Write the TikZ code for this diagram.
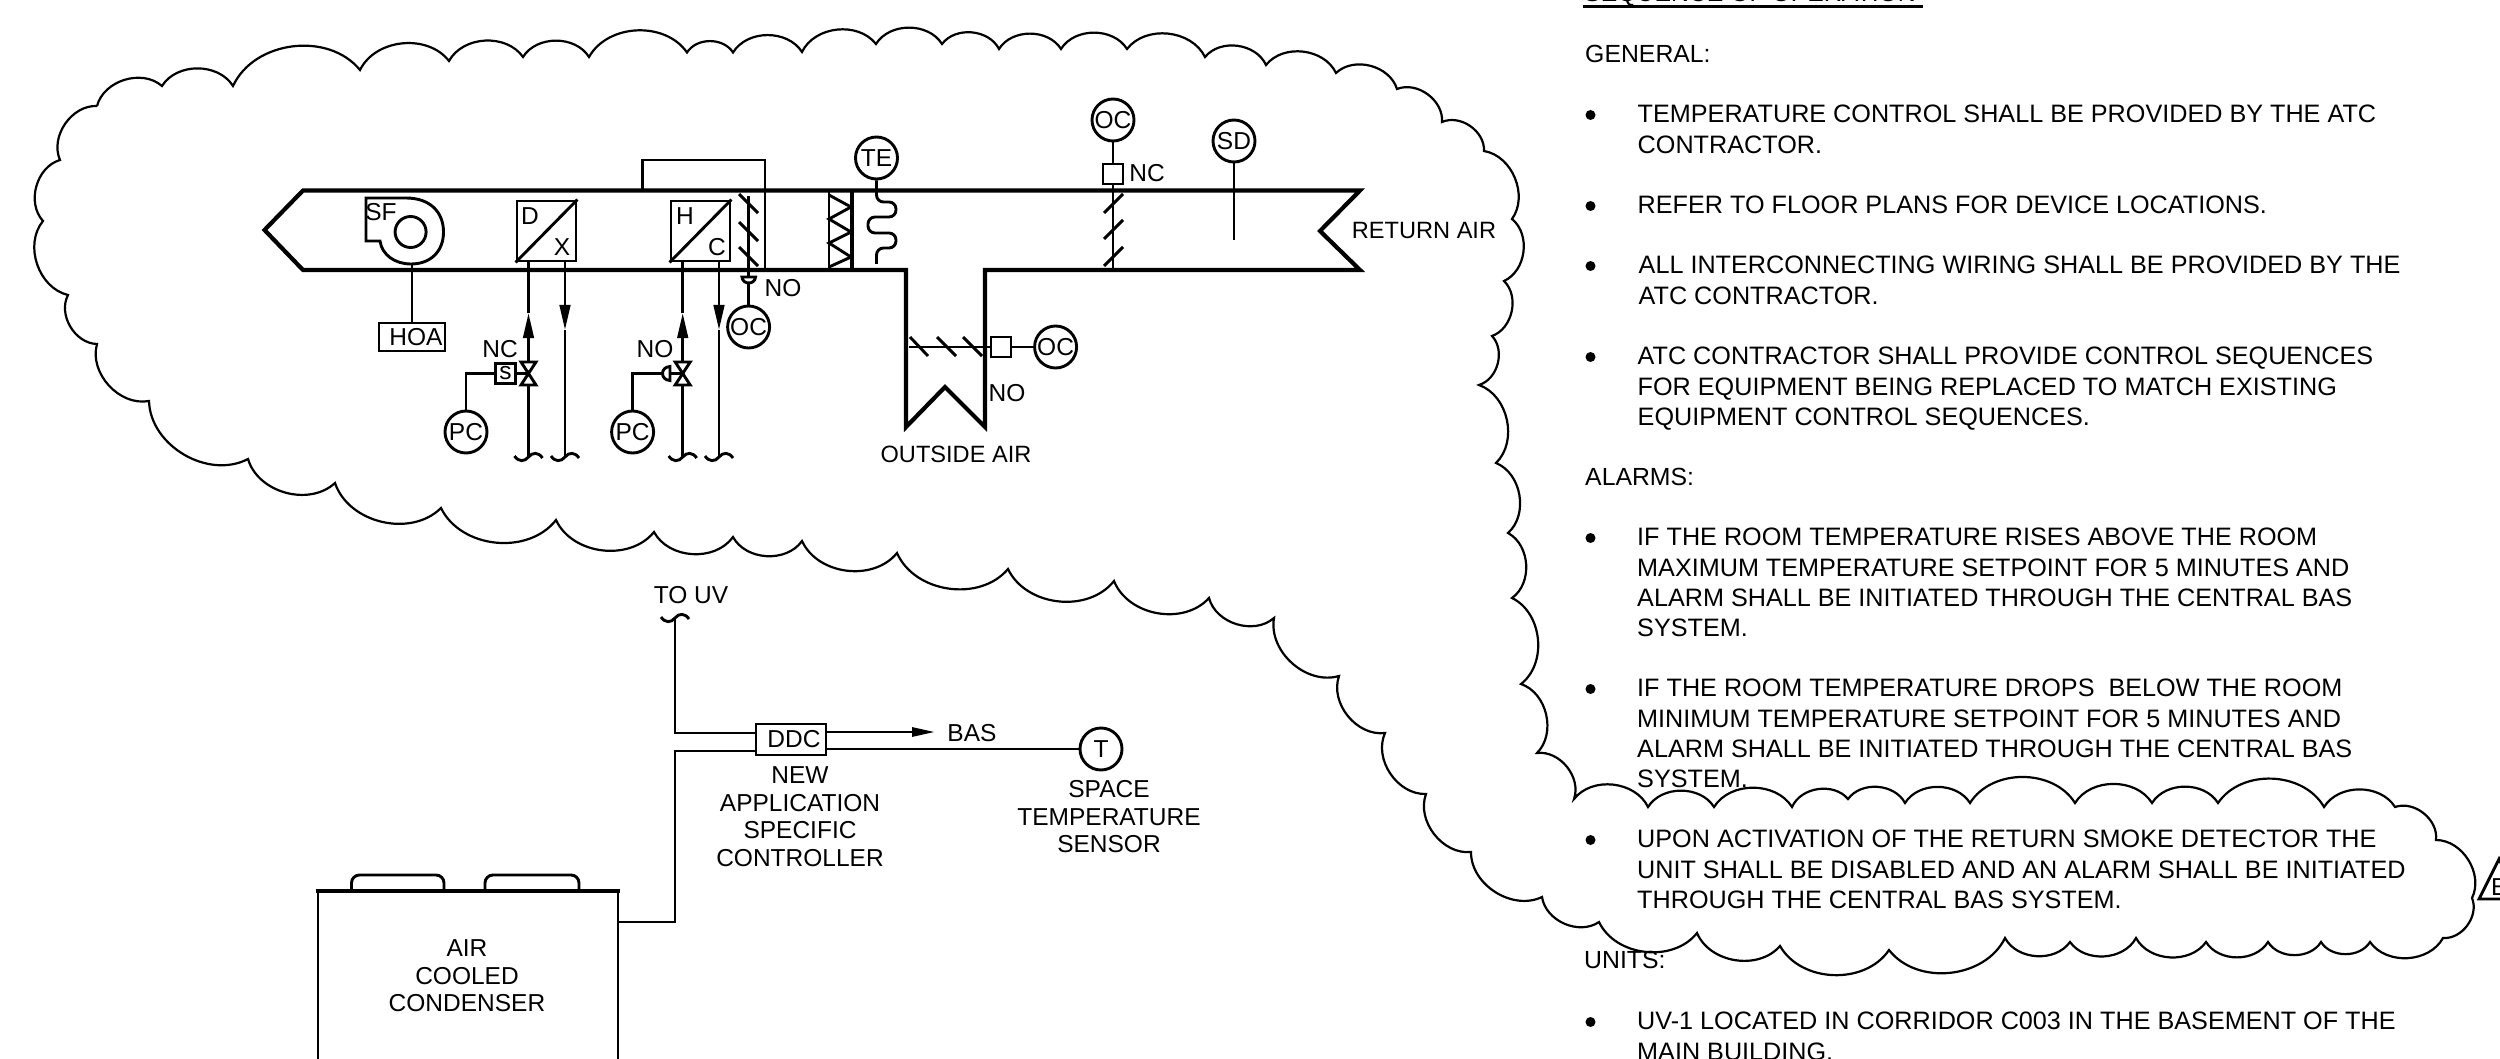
\documentclass[tikz,border=0pt]{standalone}
\usepackage{fontspec}
\setmainfont{Liberation Sans}
\usetikzlibrary{arrows.meta}
\tikzset{
  thinline/.style={line width=2.9pt},
  ductline/.style={line width=4.2pt,line join=miter},
  cloudline/.style={line width=2.2pt},
  cusp/.style={bend left=58},
  lbl/.style={font=\fontsize{24.5}{27.5}\selectfont,inner sep=0pt},
  lblsmall/.style={font=\fontsize{23.6}{27.5}\selectfont,inner sep=0pt},
  head/.style={font=\fontsize{24.8}{30.3}\selectfont,inner sep=0pt,align=left,anchor=north west},
  para/.style={font=\fontsize{25.2}{30.3}\selectfont,inner sep=0pt,align=left,anchor=north west},
  instr/.style={circle,draw,line width=2.9pt,minimum size=42pt,inner sep=0pt,fill=white,font=\fontsize{24.5}{27.5}\selectfont},
  boxn/.style={rectangle,draw,line width=2.9pt,inner sep=0pt,font=\fontsize{24.5}{27.5}\selectfont},
  dotn/.style={circle,fill=black,minimum size=10pt,inner sep=0pt},
  upflow/.style={thinline,-{Triangle[length=25pt,width=10.5pt]}},
  wavyend/.pic={\draw[thinline] (-14,-1) .. controls (-10,5) and (-4,5) .. (0,0) .. controls (4,-5) and (10,-5) .. (14,1);},
  valvetie/.style={thinline,fill=white,line join=miter}
}
\begin{document}
\begin{tikzpicture}[x=1pt,y=-1pt]
\useasboundingbox (0,0) rectangle (2500,1059);

% revision cloud
\draw[cloudline] (97,106)
 to[cusp] (162,86) to[cusp] (233,86) to[cusp] (360,70) to[cusp] (449,61)
 to[cusp] (523,57) to[cusp] (589,57) to[cusp] (687,52.5) to[cusp] (733,52.5)
 to[cusp] (802,52) to[cusp] (876,44) to[cusp] (942,44) to[cusp] (999,49)
 to[cusp] (1061,49) to[cusp] (1127,49) to[cusp] (1205,57) to[cusp] (1266,65)
 to[cusp] (1336,73) to[cusp] (1397,89) to[cusp] (1442,122) to[cusp] (1484,151)
 to[cusp] (1512,219) to[cusp] (1504,281) to[cusp] (1492,336) to[cusp] (1479,385)
 to[cusp] (1496,463) to[cusp] (1508,533) to[cusp] (1512,598) to[cusp] (1521,684)
 to[cusp] (1537,753) to[cusp] (1574,799) to[cusp] (1648,807) to[cusp] (1714,807)
 to[cusp] (1792,807) to[cusp] (1848,799) to[cusp] (1905,803) to[cusp] (1970,803)
 to[cusp] (2075,803) to[cusp] (2152,803) to[cusp] (2218,803) to[cusp] (2324,807)
 to[cusp] (2395,807) to[cusp] (2436,840) to[cusp] (2472,898) to[cusp] (2443,938)
 to[cusp] (2370,942) to[cusp] (2321,942) to[cusp] (2268,942) to[cusp] (2206,942)
 to[cusp] (2136,938) to[cusp] (2070,942) to[cusp] (2005,938) to[cusp] (1889,950)
 to[cusp] (1780,946) to[cusp] (1697,933) to[cusp] (1599,922) to[cusp] (1542,897)
 to[cusp] (1471,852) to[cusp] (1426,794) to[cusp] (1385,733) to[cusp] (1339,676)
 to[cusp] (1274,618) to[cusp] (1209,598) to[cusp] (1114,581) to[cusp] (1008,569)
 to[cusp] (897,553) to[cusp] (802,541) to[cusp] (733,537) to[cusp] (654,532)
 to[cusp] (556,520) to[cusp] (441,508) to[cusp] (335,483) to[cusp] (248,459)
 to[cusp] (149,401) to[cusp] (97,344) to[cusp] (68,295) to[cusp] (43,221)
 to[cusp] (60,160) to[cusp] (97,106);

% duct
\draw[ductline] (1360,190.5) -- (303,190.5) -- (264.5,230) -- (303,270) -- (906,270) -- (906,427) -- (945,387) -- (985,427) -- (985,270) -- (1360,270) -- (1320,231) -- cycle;

% filter
\draw[thinline] (829,191) -- (829,270);
\draw[line width=3.6pt] (852,191) -- (852,270);
\draw[thinline,line join=miter] (829,195) -- (851,207) -- (829,219) -- (851,232) -- (829,243) -- (851,257) -- (829,267);

% bypass
\draw[thinline] (642.5,191) -- (642.5,160) -- (765,160) -- (765,270);

% fan
\draw[thinline] (366,198) -- (406,198) .. controls (430,198) and (443.5,212) .. (443.5,232) .. controls (443.5,252) and (430,264) .. (411,264) .. controls (395,264) and (382,255) .. (380,241) -- (366,241) -- cycle;
\draw[thinline] (410.6,232) circle (15.5);
\node[lbl] (sf) at (381,212) {SF};
\coordinate (fanb) at (412,264);
\node[boxn,minimum width=66pt,minimum height=28pt] (hoa) at (412,337) {\hspace{8pt}HOA};
\draw[thinline] (fanb) -- (hoa.north -| fanb);

% coils
\node[boxn,minimum width=59pt,minimum height=60pt] (dx) at (546.5,231) {};
\draw[thinline] (dx.south west) -- (dx.north east);
\node[lbl] (dl) at (530,216) {D};
\node[lbl] (xl) at (562,247) {X};
\node[boxn,minimum width=59pt,minimum height=60pt] (hc) at (700.5,231) {};
\draw[thinline] (hc.south west) -- (hc.north east);
\node[lbl] (hl) at (685,216) {H};
\node[lbl] (cl) at (717,247) {C};

% pipes
\coordinate (p1t) at (528.5,261); \coordinate (p1a) at (528.5,313); \coordinate (p1b) at (528.5,457);
\coordinate (p2t) at (565,261);   \coordinate (p2a) at (565,330);   \coordinate (p2b) at (565,457);
\coordinate (p3t) at (682.7,261); \coordinate (p3a) at (682.7,313); \coordinate (p3b) at (682.7,457);
\coordinate (p4t) at (719,261);   \coordinate (p4a) at (719,330);   \coordinate (p4b) at (719,457);
\draw[thinline] (p1a) -- (p1t);
\draw[upflow] (p1b) -- (p1a);
\draw[upflow] (p2t) -- (p2a);
\draw[thinline] (p2a) -- (p2b);
\draw[thinline] (p3a) -- (p3t);
\draw[upflow] (p3b) -- (p3a);
\draw[upflow] (p4t) -- (p4a);
\draw[thinline] (p4a) -- (p4b);
\pic at (p1b) {wavyend};
\pic at (p2b) {wavyend};
\pic at (p3b) {wavyend};
\pic at (p4b) {wavyend};

% cooling valve
\coordinate (v1) at (528.5,373.5);
\node[boxn,minimum width=20pt,minimum height=20pt] (sol) at (505.5,373.5) {s};
\node[instr] (pc1) at (466,432) {PC};
\draw[thinline] (sol) -- (v1);
\draw[thinline] (sol.west) -| (pc1.north);
\draw[valvetie] (521,362) -- (536,362) -- (521,385) -- (536,385) -- cycle;
\node[lbl] (nc1) at (500,349) {NC};

% heating valve
\coordinate (v2) at (682.7,373.5);
\node[instr] (pc2) at (632.6,432) {PC};
\coordinate (act2) at (662.5,373.5);
\coordinate (act2f) at (670,373.5);
\draw[thinline] (act2) -| (pc2.north);
\draw[thinline] (act2f) -- (v2);
\draw[thinline,fill=white] (670,366.5) .. controls (660,367) and (660,380) .. (670,380.5) -- cycle;
\draw[valvetie] (675.2,362) -- (690.2,362) -- (675.2,385) -- (690.2,385) -- cycle;
\node[lbl] (no2) at (655,349) {NO};

% mixed-air damper
\node[instr] (oc1) at (748.6,327) {OC};
\coordinate (d1t) at (748.6,196);
\draw[thinline] (d1t) -- (oc1.north);
\foreach \a/\b in {194/213,222/241,247/266} \draw[thinline] (739,\a) -- (758,\b);
\draw[thinline,fill=white] (742,277) -- (755.5,277) .. controls (755,285) and (742.5,285) .. (742,277) -- cycle;
\node[lbl] (no1) at (783,288) {NO};

% temperature element
\node[instr] (te) at (876.5,158) {TE};
\coordinate (tee) at (876.5,264);
\draw[thinline,rounded corners=7pt] (te.south) -- (876.5,202) -- (896,202) -- (896,217) -- (868,217) -- (868,233) -- (896,233) -- (896,248) -- (876.5,248) -- (tee);

% return damper
\node[instr] (oc2) at (1113,120) {OC};
\node[boxn,minimum width=20pt,minimum height=20pt] (dm2) at (1113,174) {};
\coordinate (d2b) at (1113,268);
\draw[thinline] (oc2) -- (dm2);
\draw[thinline] (dm2) -- (d2b);
\foreach \a/\b in {213/194,239/220,266/247} \draw[thinline] (1104,\a) -- (1123,\b);
\node[lbl] (nc2) at (1147,173) {NC};

% smoke detector
\node[instr] (sd) at (1234,141) {SD};
\coordinate (sde) at (1234,240);
\draw[thinline] (sd) -- (sde);

% outside-air damper
\node[boxn,minimum width=20pt,minimum height=20pt] (dm3) at (1001,347) {};
\node[instr] (oc3) at (1055.6,347) {OC};
\coordinate (d3e) at (909,347);
\draw[thinline] (dm3) -- (oc3);
\draw[thinline] (d3e) -- (dm3);
\foreach \a/\b in {910/928,937/956,963/982} \draw[thinline] (\a,337) -- (\b,356);
\node[lbl] (no3) at (1007,393) {NO};
\node[lblsmall] (oa) at (956,454) {OUTSIDE AIR};
\node[lblsmall] (ra) at (1424,230) {RETURN AIR};

% controller
\node[lbl] (touv) at (691,595) {TO UV};
\coordinate (uv) at (675,618);
\pic at (uv) {wavyend};
\node[boxn,minimum width=70pt,minimum height=31pt] (ddc) at (791,739.5) {\hspace{6pt}DDC};
\coordinate (j1) at (675,733);
\coordinate (j2) at (675,751);
\coordinate (j3) at (675,922);
\draw[thinline] (uv) -- (j1) -- (ddc.west |- j1);
\draw[thinline] (ddc.west |- j2) -- (j2) -- (j3) -- (618,922);
\coordinate (bas) at (935,732);
\draw[thinline,-{Triangle[length=23pt,width=9pt]}] (ddc.east |- bas) -- (bas);
\node[lbl] (bast) at (972,733) {BAS};
\node[instr] (t) at (1101,749) {T};
\draw[thinline] (ddc.east |- t) -- (t);
\node[lbl,align=center] (ddct) at (800,816.5) {NEW\\APPLICATION\\SPECIFIC\\CONTROLLER};
\node[lbl,align=center] (tt) at (1109,817) {SPACE\\TEMPERATURE\\SENSOR};

% condenser
\draw[thinline,rounded corners=8pt] (351.5,890) -- (351.5,875) -- (444,875) -- (444,890);
\draw[thinline,rounded corners=8pt] (485,890) -- (485,875) -- (579,875) -- (579,890);
\draw[thinline] (318,1070) -- (318,891) (618,891) -- (618,1070);
\draw[ductline] (316,891) -- (620,891);
\node[lbl,align=center] (cond) at (467,976) {AIR\\COOLED\\CONDENSER};

% sequence text
\node[head,anchor=base west] (seqh) at (1584,2) {SEQUENCE OF OPERATION};
\draw[line width=3pt] (1583,6.7) -- (1923,6.7);
\node[head] (gen) at (1585,45) {GENERAL:};
\node[dotn] (b1) at (1590.5,115) {};
\node[para] (t1) at (1637.5,105) {TEMPERATURE CONTROL SHALL BE PROVIDED BY THE ATC\\CONTRACTOR.};
\node[dotn] (b2) at (1590.5,206) {};
\node[para] (t2) at (1637.5,196) {REFER TO FLOOR PLANS FOR DEVICE LOCATIONS.};
\node[dotn] (b3) at (1590.5,266) {};
\node[para] (t3) at (1638.5,256) {ALL INTERCONNECTING WIRING SHALL BE PROVIDED BY THE\\ATC CONTRACTOR.};
\node[dotn] (b4) at (1590.5,357) {};
\node[para] (t4) at (1637.5,347) {ATC CONTRACTOR SHALL PROVIDE CONTROL SEQUENCES\\FOR EQUIPMENT BEING REPLACED TO MATCH EXISTING\\EQUIPMENT CONTROL SEQUENCES.};
\node[head] (alm) at (1585,468) {ALARMS:};
\node[dotn] (b5) at (1590.5,538) {};
\node[para] (t5) at (1637,528) {IF THE ROOM TEMPERATURE RISES ABOVE THE ROOM\\MAXIMUM TEMPERATURE SETPOINT FOR 5 MINUTES AND\\ALARM SHALL BE INITIATED THROUGH THE CENTRAL BAS\\SYSTEM.};
\node[dotn] (b6) at (1590.5,689) {};
\node[para] (t6) at (1637,679) {IF THE ROOM TEMPERATURE DROPS\ \ BELOW THE ROOM\\MINIMUM TEMPERATURE SETPOINT FOR 5 MINUTES AND\\ALARM SHALL BE INITIATED THROUGH THE CENTRAL BAS\\SYSTEM.};
\node[dotn] (b7) at (1590.5,840) {};
\node[para] (t7) at (1637,830) {UPON ACTIVATION OF THE RETURN SMOKE DETECTOR THE\\UNIT SHALL BE DISABLED AND AN ALARM SHALL BE INITIATED\\THROUGH THE CENTRAL BAS SYSTEM.};
\node[head] (unt) at (1584,951) {UNITS:};
\node[dotn] (b8) at (1590.5,1022) {};
\node[para] (t8) at (1637,1012) {UV-1 LOCATED IN CORRIDOR C003 IN THE BASEMENT OF THE\\MAIN BUILDING.};

% revision delta
\draw[thinline,line join=miter] (2479,899) -- (2499,859) -- (2519,899) -- cycle;
\node[lbl,anchor=base west] (delta) at (2491,895) {E};
\end{tikzpicture}
\end{document}
